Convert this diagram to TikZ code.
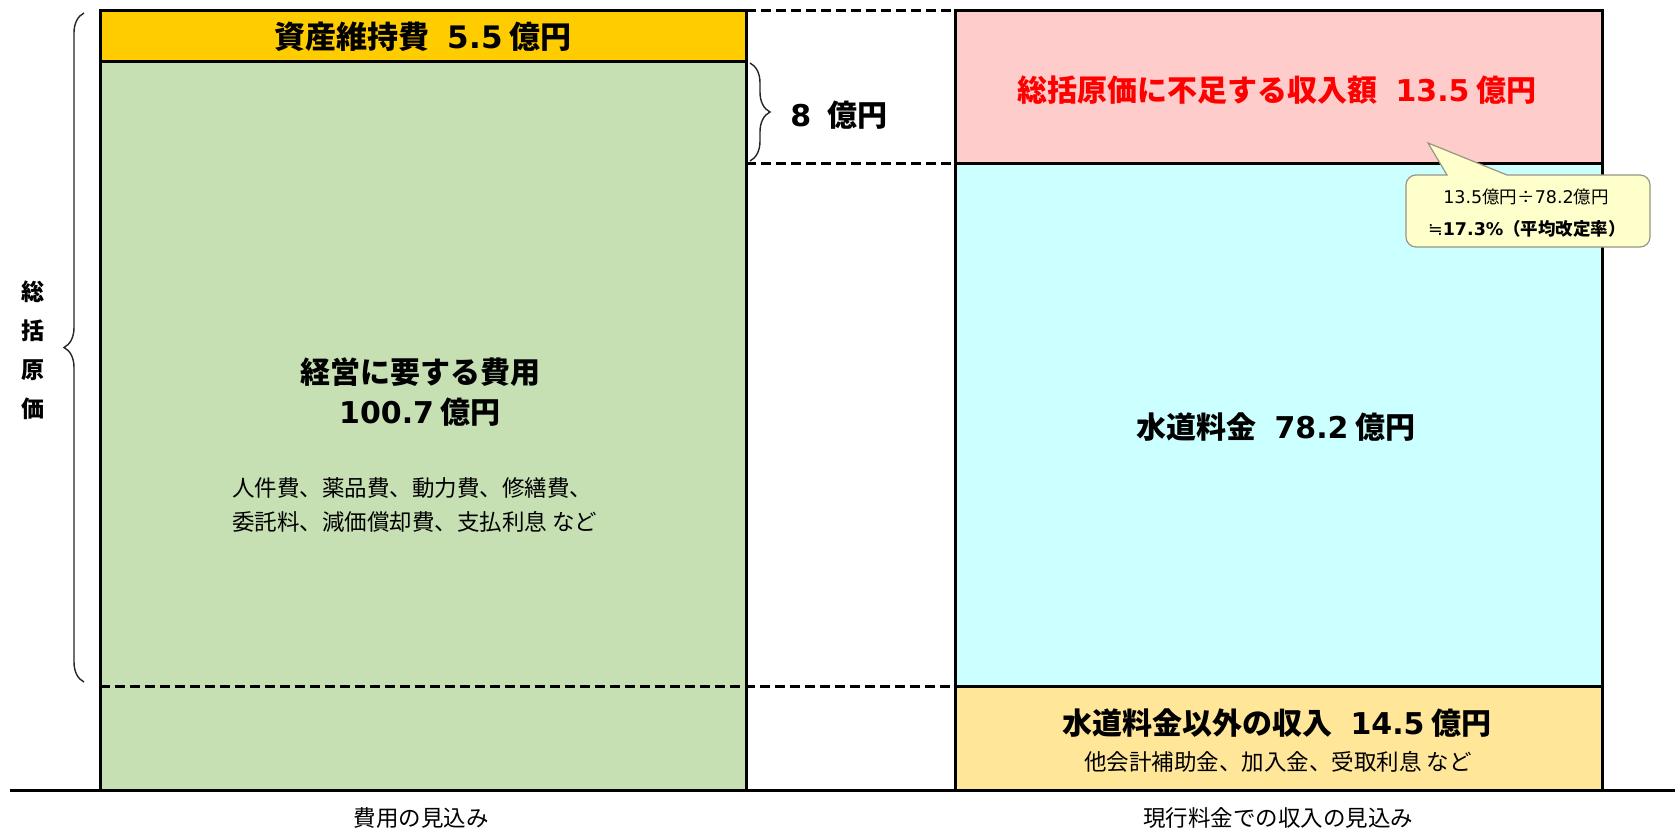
\documentclass[tikz,border=0pt]{standalone}
\usepackage{fontspec}
\setmainfont{Noto Sans CJK JP}
\newfontfamily\latn{DejaVu Sans}
\usetikzlibrary{decorations.pathreplacing}
\newcommand{\dg}[1]{{\latn #1}}
\definecolor{cYel}{HTML}{FFCC00}
\definecolor{cGrn}{HTML}{C6E0B4}
\definecolor{cPnk}{HTML}{FFCCCC}
\definecolor{cCyn}{HTML}{CCFFFF}
\definecolor{cOrg}{HTML}{FFE699}
\definecolor{cCall}{HTML}{FFFFCC}
\definecolor{cCallB}{RGB}{150,150,130}
\definecolor{cRed}{HTML}{FF0000}
\begin{document}
\begin{tikzpicture}[x=1pt,y=-1pt,
  box/.style={draw=black, line width=3pt, inner sep=0pt, outer sep=0pt, anchor=north west},
  dashline/.style={line width=3pt, dash pattern=on 10pt off 5pt},
  bigtxt/.style={font=\bfseries\fontsize{30}{40}\selectfont, inner sep=0pt, align=center},
  smalltxt/.style={font=\fontsize{22.5}{34}\selectfont, inner sep=0pt},
  bracestyle/.style={decorate, decoration={brace, amplitude=20pt}, line width=1.4pt, draw=black!85},
]
\useasboundingbox (0,0) rectangle (1675,829);
\fill[white] (0,0) rectangle (1675,829);

% left column
\node[box, fill=cGrn, minimum width=646pt, minimum height=728pt] (grn) at (100,62) {};
\node[box, fill=cYel, minimum width=646pt, minimum height=51pt] (yel) at (100,11) {};
% right column
\node[box, fill=cPnk, minimum width=647pt, minimum height=153pt] (pnk) at (955,11) {};
\node[box, fill=cCyn, minimum width=647pt, minimum height=522pt] (cyn) at (955,164) {};
\node[box, fill=cOrg, minimum width=647pt, minimum height=104pt] (org) at (955,686) {};

% dashed lines
\coordinate (dL) at (100,686);
\draw[dashline] (dL) -- (cyn.south west);
\draw[dashline] (yel.north east) -- (pnk.north west);
\coordinate (dM) at (746,164);
\draw[dashline] (dM) -- (pnk.south west);

% baseline
\coordinate (bl) at (10,790);
\coordinate (br) at (1675,790);
\draw[line width=3pt] (bl) -- (br);

% braces
\coordinate (bA) at (84,682);
\coordinate (bB) at (84,13);
\draw[bracestyle] (bA) -- (bB);
\coordinate (sA) at (750,63);
\coordinate (sB) at (750,161);
\draw[bracestyle] (sA) -- (sB);

% texts
\node[bigtxt, font=\bfseries\fontsize{31}{40}\selectfont] (t1) at (423,37) {資産維持費\hspace{0.6em}\dg{5.5} 億円};
\node[bigtxt] (t2) at (839,115) {\dg{8}\hspace{0.55em}億円};
\node[bigtxt, text=cRed] (t3) at (1277,90) {総括原価に不足する収入額\hspace{0.6em}\dg{13.5} 億円};
\node[bigtxt] (t4) at (420,392) {経営に要する費用\\\dg{100.7} 億円};
\node[smalltxt, align=left, anchor=west] (t5) at (232,505) {人件費、薬品費、動力費、修繕費、\\委託料、減価償却費、支払利息 など};
\node[bigtxt] (t6) at (1276,427) {水道料金\hspace{0.6em}\dg{78.2} 億円};
\node[bigtxt] (t7) at (1277,723) {水道料金以外の収入\hspace{0.6em}\dg{14.5} 億円};
\node[smalltxt] (t8) at (1278,762) {他会計補助金、加入金、受取利息 など};
\node[font=\bfseries\fontsize{23}{39}\selectfont, align=center, inner sep=0pt] (vl) at (33,350) {総\\括\\原\\価};
\node[font=\fontsize{22.5}{30}\selectfont, inner sep=0pt] (b1) at (421,818) {費用の見込み};
\node[font=\fontsize{22.5}{30}\selectfont, inner sep=0pt] (b2) at (1278,818) {現行料金での収入の見込み};

% callout
\coordinate (cTip) at (1428,143);
\draw[fill=cCall, draw=cCallB, line width=1.2pt]
  (1447,175) -- (cTip) -- (1507,175) [rounded corners=10pt] -- (1650,175) -- (1650,247) -- (1406,247) -- (1406,175) [sharp corners] -- cycle;
\node[font=\fontsize{17.5}{22}\selectfont, inner sep=0pt] (c1) at (1526,197) {\dg{13.5}億円÷\dg{78.2}億円};
\node[font=\fontsize{17.5}{22}\selectfont, inner sep=0pt] (c2) at (1527,229) {\dg{≒}{\bfseries\dg{17.3\%}（平均改定率）}};
\end{tikzpicture}
\end{document}
